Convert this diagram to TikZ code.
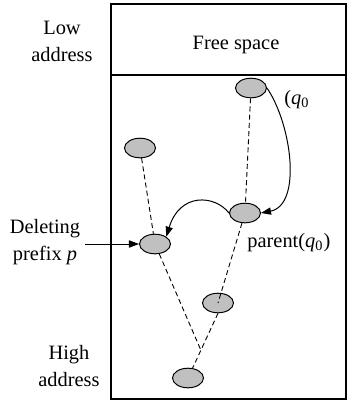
\documentclass[tikz,border=0pt]{standalone}
\usepackage{fontspec}
\setmainfont{Liberation Serif}
\usetikzlibrary{shapes.geometric,arrows.meta}
\definecolor{nodegray}{RGB}{192,192,192}
\begin{document}
\begin{tikzpicture}[x=0.5pt,y=-0.5pt,
  every node/.style={font=\fontsize{10.2}{13.5}\selectfont},
  trienode/.style={ellipse,draw=black,line width=0.5pt,fill=nodegray,
    minimum width=15.5pt,minimum height=9.8pt,inner sep=0pt},
  link/.style={dashed,dash pattern=on 2.5pt off 1.6pt,line width=0.45pt},
  move/.style={line width=0.5pt,-{Triangle[length=5pt,width=3.6pt]}},
  lbl/.style={align=center,inner sep=0pt}]
  \useasboundingbox (0,0) rectangle (347,403);

  % memory block with free space at the low end
  \draw[line width=0.55pt] (111,4) rectangle (346,399);
  \draw[line width=0.55pt] (111,75) -- (346,75);
  \node[lbl] (free) at (236,45) {Free space};

  % address labels
  \node[lbl] (low) at (62,41) {Low\\address};
  \node[lbl] (high) at (69,366) {High\\address};
  \node[lbl] (del) at (45,242) {Deleting\\prefix \textit{p}};

  % trie nodes stored in the block
  \node[trienode] (top) at (251,88) {};
  \node[trienode] (left) at (140,148) {};
  \node[trienode] (parent) at (245,213) {};
  \node[trienode] (delnode) at (155,244) {};
  \node[trienode] (mid) at (218,303) {};
  \node[trienode] (bottom) at (188,378) {};

  % parent links
  \coordinate (join) at (200.8,350);
  \draw[link] (top) -- (parent);
  \draw[link] (left) -- (delnode);
  \draw[link] (delnode) -- (join);
  \draw[link] (parent) -- (mid.center);
  \draw[link] (mid.south) -- (bottom);

  % moves
  \draw[move] (top.east) .. controls (292,125) and (302,205) .. (parent.east);
  \draw[move] (parent.west) .. controls (215,195) and (180,192) .. (delnode.north east);
  \coordinate (delstart) at (85,244);
  \draw[move] (delstart) -- (delnode.west);

  \node[anchor=west,inner sep=0pt] (q0) at (284,100) {(\textit{q}\textsubscript{0}};
  \node[anchor=west,inner sep=0pt] (par) at (247,243) {parent(\textit{q}\textsubscript{0})};
\end{tikzpicture}
\end{document}
